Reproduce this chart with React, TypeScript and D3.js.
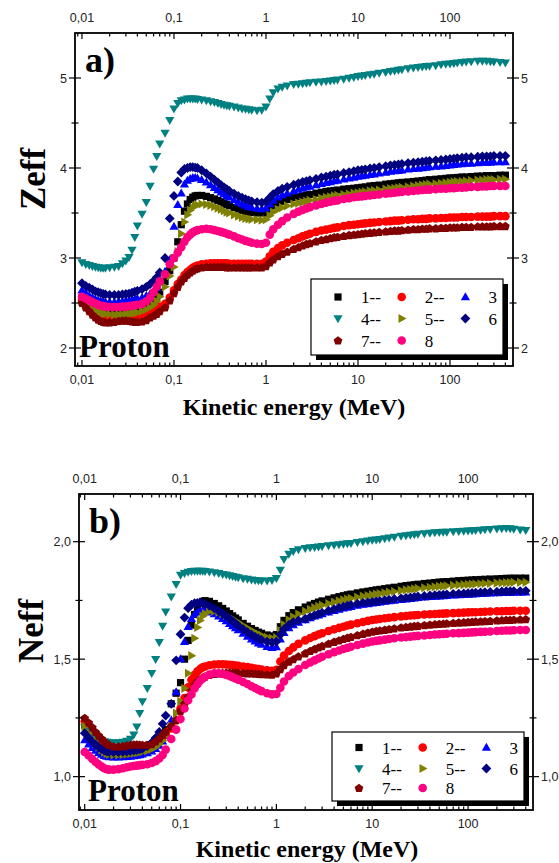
import React, { useEffect, useRef } from "react";
import * as d3 from "d3";

// proton kinetic energy grid (MeV)
const energy = [
  0.01, 0.011, 0.012, 0.013, 0.014, 0.015, 0.016, 0.017, 0.018, 0.02, 0.0225, 0.025, 0.0275, 0.03, 0.0325, 0.035, 0.0375, 0.04, 0.045, 0.05, 0.055, 0.06, 0.065, 0.07, 0.08, 0.09,
  0.1, 0.11, 0.12, 0.13, 0.14, 0.15, 0.16, 0.17, 0.18, 0.2, 0.225, 0.25, 0.275, 0.3, 0.325, 0.35, 0.375, 0.4, 0.45, 0.5, 0.55, 0.6, 0.65, 0.7, 0.8, 0.9,
  1, 1.1, 1.2, 1.35, 1.5, 1.7, 2, 2.25, 2.5, 2.75, 3, 3.5, 4, 4.5, 5, 5.5, 6, 7, 8, 9,
  10, 11, 12, 13.5, 15, 17, 20, 22.5, 25, 27.5, 30, 35, 40, 45, 50, 55, 60, 70, 80, 90,
  100, 110, 120, 135, 150, 170, 200, 225, 250, 275, 300, 350, 400,
];

// a) Zeff
const zeff1 = [
  2.56, 2.53, 2.5, 2.48, 2.46, 2.45, 2.44, 2.435, 2.43, 2.425, 2.425, 2.425, 2.43, 2.43, 2.435, 2.44, 2.445, 2.45, 2.465, 2.48, 2.5, 2.53, 2.57, 2.62, 2.74, 2.86,
  3.0, 3.18, 3.37, 3.52, 3.6, 3.65, 3.675, 3.69, 3.695, 3.695, 3.685, 3.67, 3.655, 3.64, 3.625, 3.61, 3.595, 3.58, 3.56, 3.545, 3.53, 3.52, 3.51, 3.505, 3.5, 3.5,
  3.5, 3.545, 3.58, 3.61, 3.63, 3.65, 3.67, 3.68, 3.69, 3.7, 3.705, 3.72, 3.73, 3.74, 3.745, 3.75, 3.755, 3.765, 3.77, 3.775,
  3.78, 3.785, 3.79, 3.8, 3.805, 3.81, 3.82, 3.825, 3.83, 3.835, 3.84, 3.845, 3.85, 3.855, 3.86, 3.865, 3.87, 3.875, 3.88, 3.885,
  3.89, 3.89, 3.895, 3.9, 3.9, 3.905, 3.91, 3.91, 3.915, 3.915, 3.915, 3.92, 3.92,
];
const zeff2 = [
  2.53, 2.49, 2.45, 2.42, 2.4, 2.38, 2.365, 2.355, 2.35, 2.345, 2.345, 2.35, 2.355, 2.355, 2.355, 2.355, 2.355, 2.36, 2.37, 2.385, 2.4, 2.42, 2.44, 2.46, 2.49, 2.56,
  2.64, 2.71, 2.76, 2.81, 2.845, 2.87, 2.89, 2.905, 2.915, 2.93, 2.935, 2.94, 2.94, 2.94, 2.94, 2.94, 2.94, 2.935, 2.935, 2.935, 2.935, 2.935, 2.935, 2.935, 2.935, 2.935,
  2.96, 3.02, 3.07, 3.11, 3.14, 3.17, 3.2, 3.22, 3.24, 3.255, 3.27, 3.29, 3.305, 3.315, 3.325, 3.335, 3.34, 3.355, 3.365, 3.37,
  3.375, 3.38, 3.385, 3.39, 3.395, 3.4, 3.405, 3.41, 3.415, 3.415, 3.42, 3.425, 3.43, 3.43, 3.435, 3.435, 3.44, 3.44, 3.445, 3.445,
  3.45, 3.45, 3.45, 3.455, 3.455, 3.455, 3.46, 3.46, 3.46, 3.46, 3.465, 3.465, 3.465,
];
const zeff3 = [
  2.64, 2.61, 2.58, 2.56, 2.54, 2.53, 2.52, 2.515, 2.51, 2.51, 2.51, 2.515, 2.52, 2.525, 2.53, 2.535, 2.54, 2.55, 2.56, 2.58, 2.6, 2.63, 2.67, 2.73, 2.85, 2.98,
  3.35, 3.59, 3.72, 3.82, 3.86, 3.88, 3.89, 3.89, 3.885, 3.87, 3.84, 3.81, 3.78, 3.755, 3.73, 3.71, 3.69, 3.675, 3.645, 3.62, 3.6, 3.585, 3.57, 3.56, 3.55, 3.545,
  3.555, 3.6, 3.64, 3.675, 3.7, 3.72, 3.745, 3.76, 3.775, 3.785, 3.795, 3.81, 3.825, 3.835, 3.845, 3.855, 3.86, 3.875, 3.885, 3.895,
  3.905, 3.91, 3.915, 3.925, 3.93, 3.94, 3.95, 3.96, 3.965, 3.97, 3.975, 3.985, 3.99, 3.995, 4.0, 4.005, 4.01, 4.015, 4.02, 4.025,
  4.03, 4.035, 4.04, 4.045, 4.05, 4.05, 4.055, 4.06, 4.06, 4.06, 4.065, 4.065, 4.065,
];
const zeff4 = [
  2.95, 2.93, 2.92, 2.91, 2.9, 2.895, 2.89, 2.89, 2.89, 2.895, 2.9, 2.91, 2.94, 2.97, 3.01, 3.09, 3.23, 3.36, 3.49, 3.62, 3.8, 3.99, 4.13, 4.27, 4.39, 4.53,
  4.66, 4.72, 4.75, 4.76, 4.77, 4.77, 4.77, 4.77, 4.765, 4.76, 4.75, 4.74, 4.73, 4.72, 4.71, 4.7, 4.695, 4.69, 4.68, 4.67, 4.66, 4.655, 4.65, 4.645, 4.64, 4.645,
  4.68, 4.77, 4.84, 4.88, 4.9, 4.915, 4.93, 4.935, 4.94, 4.945, 4.95, 4.955, 4.96, 4.965, 4.97, 4.975, 4.98, 4.99, 5.0, 5.01,
  5.02, 5.025, 5.03, 5.04, 5.045, 5.055, 5.065, 5.075, 5.08, 5.09, 5.095, 5.105, 5.115, 5.12, 5.125, 5.13, 5.135, 5.14, 5.15, 5.155,
  5.16, 5.165, 5.17, 5.175, 5.18, 5.185, 5.19, 5.19, 5.19, 5.185, 5.18, 5.175, 5.17,
];
const zeff5 = [
  2.52, 2.49, 2.46, 2.44, 2.42, 2.405, 2.395, 2.385, 2.38, 2.375, 2.37, 2.37, 2.37, 2.375, 2.38, 2.385, 2.39, 2.395, 2.41, 2.43, 2.45, 2.48, 2.52, 2.57, 2.68, 2.8,
  2.9, 3.07, 3.27, 3.4, 3.48, 3.53, 3.56, 3.58, 3.59, 3.6, 3.595, 3.585, 3.57, 3.555, 3.54, 3.525, 3.51, 3.5, 3.48, 3.465, 3.45, 3.44, 3.435, 3.43, 3.425, 3.42,
  3.425, 3.47, 3.51, 3.54, 3.56, 3.58, 3.6, 3.61, 3.62, 3.63, 3.64, 3.65, 3.665, 3.675, 3.68, 3.69, 3.695, 3.705, 3.71, 3.72,
  3.725, 3.73, 3.735, 3.745, 3.75, 3.755, 3.765, 3.77, 3.775, 3.78, 3.785, 3.79, 3.8, 3.805, 3.81, 3.815, 3.82, 3.825, 3.83, 3.835,
  3.84, 3.845, 3.85, 3.85, 3.855, 3.86, 3.865, 3.865, 3.87, 3.87, 3.87, 3.875, 3.875,
];
const zeff6 = [
  2.72, 2.69, 2.67, 2.65, 2.63, 2.62, 2.61, 2.6, 2.595, 2.59, 2.59, 2.59, 2.595, 2.6, 2.605, 2.615, 2.625, 2.635, 2.655, 2.68, 2.71, 2.745, 2.785, 2.84, 3.0, 3.44,
  3.69, 3.85, 3.95, 3.99, 4.0, 4.01, 4.01, 4.005, 4.0, 3.975, 3.94, 3.905, 3.87, 3.84, 3.81, 3.785, 3.765, 3.745, 3.715, 3.69, 3.67, 3.655, 3.64, 3.63, 3.62, 3.615,
  3.625, 3.67, 3.71, 3.745, 3.77, 3.79, 3.815, 3.83, 3.845, 3.855, 3.865, 3.88, 3.895, 3.905, 3.915, 3.925, 3.93, 3.945, 3.955, 3.965,
  3.975, 3.98, 3.985, 3.995, 4.0, 4.01, 4.02, 4.03, 4.035, 4.04, 4.045, 4.055, 4.06, 4.065, 4.07, 4.075, 4.08, 4.085, 4.09, 4.095,
  4.1, 4.105, 4.11, 4.115, 4.12, 4.12, 4.125, 4.13, 4.13, 4.13, 4.135, 4.135, 4.135,
];
const zeff7 = [
  2.5, 2.45, 2.41, 2.37, 2.34, 2.315, 2.3, 2.29, 2.285, 2.285, 2.29, 2.3, 2.305, 2.305, 2.3, 2.295, 2.29, 2.29, 2.295, 2.31, 2.34, 2.36, 2.38, 2.41, 2.45, 2.53,
  2.61, 2.68, 2.74, 2.78, 2.815, 2.84, 2.86, 2.875, 2.885, 2.895, 2.9, 2.9, 2.9, 2.9, 2.9, 2.9, 2.895, 2.895, 2.895, 2.895, 2.895, 2.895, 2.895, 2.895, 2.895, 2.895,
  2.91, 2.95, 2.985, 3.02, 3.045, 3.07, 3.1, 3.12, 3.14, 3.155, 3.165, 3.185, 3.2, 3.21, 3.22, 3.23, 3.235, 3.245, 3.255, 3.26,
  3.265, 3.27, 3.275, 3.28, 3.285, 3.29, 3.295, 3.3, 3.305, 3.305, 3.31, 3.315, 3.32, 3.32, 3.325, 3.325, 3.33, 3.33, 3.335, 3.335,
  3.34, 3.34, 3.34, 3.345, 3.345, 3.345, 3.35, 3.35, 3.35, 3.35, 3.355, 3.355, 3.355,
];
const zeff8 = [
  2.57, 2.55, 2.53, 2.51, 2.495, 2.48, 2.47, 2.465, 2.46, 2.455, 2.455, 2.455, 2.46, 2.46, 2.465, 2.47, 2.475, 2.48, 2.49, 2.52, 2.56, 2.62, 2.68, 2.74, 2.82, 2.93,
  3.0, 3.06, 3.12, 3.18, 3.23, 3.26, 3.285, 3.3, 3.31, 3.32, 3.325, 3.32, 3.31, 3.3, 3.29, 3.28, 3.27, 3.26, 3.24, 3.22, 3.205, 3.19, 3.18, 3.17, 3.16, 3.155,
  3.17, 3.26, 3.32, 3.37, 3.41, 3.45, 3.49, 3.515, 3.535, 3.55, 3.565, 3.585, 3.6, 3.615, 3.625, 3.635, 3.64, 3.655, 3.665, 3.675,
  3.68, 3.685, 3.69, 3.695, 3.7, 3.705, 3.715, 3.72, 3.725, 3.73, 3.735, 3.74, 3.745, 3.75, 3.755, 3.76, 3.76, 3.765, 3.77, 3.77,
  3.775, 3.775, 3.78, 3.78, 3.785, 3.79, 3.79, 3.795, 3.795, 3.8, 3.8, 3.8, 3.8,
];

// b) Neff
const neff1 = [
  1.22, 1.19, 1.17, 1.15, 1.135, 1.125, 1.115, 1.11, 1.107, 1.105, 1.105, 1.107, 1.108, 1.11, 1.112, 1.114, 1.116, 1.118, 1.123, 1.13, 1.14, 1.155, 1.175, 1.2, 1.31, 1.355,
  1.4, 1.5, 1.58, 1.645, 1.69, 1.72, 1.738, 1.746, 1.749, 1.746, 1.737, 1.727, 1.716, 1.705, 1.694, 1.684, 1.675, 1.667, 1.652, 1.64, 1.63, 1.622, 1.615, 1.61, 1.603, 1.599,
  1.605, 1.638, 1.665, 1.685, 1.698, 1.71, 1.722, 1.73, 1.737, 1.743, 1.748, 1.755, 1.761, 1.766, 1.77, 1.774, 1.777, 1.782, 1.786, 1.789,
  1.792, 1.795, 1.797, 1.8, 1.803, 1.806, 1.81, 1.813, 1.815, 1.817, 1.819, 1.822, 1.824, 1.826, 1.828, 1.829, 1.83, 1.832, 1.834, 1.835,
  1.836, 1.837, 1.838, 1.839, 1.84, 1.841, 1.842, 1.843, 1.844, 1.844, 1.845, 1.845, 1.845,
];
const neff2 = [
  1.235, 1.205, 1.18, 1.162, 1.148, 1.138, 1.13, 1.125, 1.122, 1.12, 1.12, 1.122, 1.124, 1.126, 1.127, 1.128, 1.129, 1.13, 1.133, 1.138, 1.145, 1.155, 1.167, 1.18, 1.205, 1.24,
  1.29, 1.335, 1.38, 1.412, 1.433, 1.448, 1.458, 1.465, 1.469, 1.474, 1.477, 1.478, 1.478, 1.477, 1.476, 1.475, 1.473, 1.472, 1.469, 1.466, 1.463, 1.46, 1.458, 1.456, 1.453, 1.451,
  1.455, 1.49, 1.515, 1.535, 1.55, 1.565, 1.58, 1.59, 1.598, 1.605, 1.61, 1.62, 1.627, 1.633, 1.638, 1.643, 1.647, 1.653, 1.658, 1.663,
  1.667, 1.669, 1.671, 1.674, 1.676, 1.679, 1.682, 1.684, 1.686, 1.687, 1.688, 1.69, 1.691, 1.692, 1.693, 1.694, 1.695, 1.696, 1.697, 1.698,
  1.699, 1.7, 1.7, 1.701, 1.702, 1.703, 1.704, 1.704, 1.705, 1.705, 1.706, 1.706, 1.706,
];
const neff3 = [
  1.156, 1.138, 1.123, 1.111, 1.101, 1.094, 1.089, 1.085, 1.083, 1.082, 1.082, 1.083, 1.084, 1.086, 1.088, 1.09, 1.092, 1.095, 1.1, 1.108, 1.118, 1.132, 1.15, 1.175, 1.24, 1.36,
  1.5, 1.574, 1.638, 1.672, 1.69, 1.7, 1.705, 1.706, 1.705, 1.7, 1.692, 1.682, 1.672, 1.662, 1.651, 1.641, 1.632, 1.624, 1.609, 1.596, 1.585, 1.576, 1.568, 1.562, 1.553, 1.548,
  1.552, 1.585, 1.612, 1.632, 1.645, 1.656, 1.667, 1.675, 1.682, 1.687, 1.692, 1.7, 1.706, 1.711, 1.716, 1.72, 1.723, 1.728, 1.732, 1.735,
  1.738, 1.74, 1.742, 1.745, 1.747, 1.75, 1.753, 1.755, 1.757, 1.759, 1.761, 1.763, 1.765, 1.767, 1.768, 1.769, 1.77, 1.772, 1.773, 1.774,
  1.775, 1.776, 1.777, 1.778, 1.779, 1.78, 1.781, 1.782, 1.783, 1.783, 1.784, 1.784, 1.785,
];
const neff4 = [
  1.21, 1.195, 1.18, 1.17, 1.16, 1.155, 1.15, 1.148, 1.146, 1.145, 1.146, 1.148, 1.152, 1.16, 1.178, 1.213, 1.27, 1.32, 1.376, 1.44, 1.5, 1.572, 1.641, 1.702, 1.766, 1.819,
  1.858, 1.866, 1.871, 1.874, 1.875, 1.876, 1.876, 1.875, 1.874, 1.872, 1.869, 1.866, 1.862, 1.859, 1.856, 1.853, 1.85, 1.848, 1.844, 1.841, 1.838, 1.836, 1.835, 1.834, 1.834, 1.836,
  1.845, 1.88, 1.925, 1.948, 1.96, 1.967, 1.972, 1.975, 1.977, 1.979, 1.981, 1.984, 1.986, 1.988, 1.99, 1.992, 1.994, 1.998, 2.001, 2.004,
  2.007, 2.009, 2.011, 2.014, 2.017, 2.02, 2.024, 2.027, 2.029, 2.031, 2.033, 2.035, 2.037, 2.039, 2.04, 2.041, 2.042, 2.044, 2.045, 2.046,
  2.047, 2.048, 2.049, 2.05, 2.052, 2.053, 2.055, 2.056, 2.057, 2.056, 2.054, 2.051, 2.049,
];
const neff5 = [
  1.213, 1.185, 1.16, 1.14, 1.125, 1.113, 1.104, 1.098, 1.095, 1.093, 1.093, 1.094, 1.096, 1.098, 1.1, 1.102, 1.104, 1.106, 1.11, 1.117, 1.126, 1.138, 1.153, 1.172, 1.215, 1.27,
  1.32, 1.376, 1.44, 1.515, 1.589, 1.635, 1.665, 1.683, 1.694, 1.703, 1.704, 1.7, 1.694, 1.687, 1.679, 1.671, 1.663, 1.656, 1.643, 1.632, 1.622, 1.614, 1.607, 1.601, 1.593, 1.589,
  1.592, 1.622, 1.647, 1.667, 1.68, 1.692, 1.704, 1.712, 1.719, 1.725, 1.73, 1.737, 1.743, 1.748, 1.752, 1.756, 1.759, 1.764, 1.768, 1.771,
  1.774, 1.777, 1.779, 1.782, 1.785, 1.788, 1.792, 1.795, 1.797, 1.799, 1.801, 1.804, 1.806, 1.808, 1.81, 1.811, 1.812, 1.814, 1.816, 1.817,
  1.818, 1.819, 1.82, 1.821, 1.822, 1.823, 1.824, 1.825, 1.826, 1.826, 1.827, 1.827, 1.827,
];
const neff6 = [
  1.185, 1.165, 1.148, 1.135, 1.125, 1.117, 1.111, 1.107, 1.105, 1.104, 1.104, 1.105, 1.107, 1.109, 1.111, 1.113, 1.116, 1.119, 1.13, 1.145, 1.165, 1.19, 1.225, 1.26, 1.31, 1.495,
  1.606, 1.677, 1.717, 1.732, 1.738, 1.74, 1.739, 1.737, 1.734, 1.727, 1.716, 1.705, 1.694, 1.683, 1.672, 1.662, 1.652, 1.643, 1.628, 1.615, 1.604, 1.595, 1.588, 1.582, 1.575, 1.571,
  1.575, 1.605, 1.628, 1.646, 1.658, 1.665, 1.672, 1.68, 1.687, 1.693, 1.698, 1.706, 1.713, 1.719, 1.724, 1.728, 1.731, 1.736, 1.74, 1.742,
  1.744, 1.746, 1.748, 1.751, 1.753, 1.756, 1.759, 1.761, 1.763, 1.765, 1.767, 1.769, 1.771, 1.773, 1.774, 1.775, 1.776, 1.778, 1.779, 1.78,
  1.781, 1.782, 1.783, 1.784, 1.785, 1.786, 1.787, 1.788, 1.789, 1.789, 1.79, 1.79, 1.791,
];
const neff7 = [
  1.25, 1.23, 1.21, 1.19, 1.175, 1.162, 1.15, 1.142, 1.135, 1.129, 1.128, 1.13, 1.133, 1.135, 1.137, 1.137, 1.136, 1.135, 1.135, 1.138, 1.15, 1.163, 1.178, 1.192, 1.215, 1.24,
  1.28, 1.31, 1.34, 1.365, 1.39, 1.405, 1.415, 1.421, 1.426, 1.433, 1.437, 1.44, 1.441, 1.442, 1.442, 1.442, 1.442, 1.441, 1.441, 1.44, 1.439, 1.438, 1.437, 1.436, 1.435, 1.434,
  1.44, 1.458, 1.475, 1.49, 1.5, 1.512, 1.525, 1.535, 1.543, 1.55, 1.556, 1.566, 1.574, 1.58, 1.586, 1.591, 1.595, 1.602, 1.608, 1.613,
  1.617, 1.62, 1.622, 1.625, 1.628, 1.631, 1.635, 1.637, 1.639, 1.641, 1.642, 1.645, 1.647, 1.649, 1.65, 1.651, 1.652, 1.654, 1.656, 1.657,
  1.658, 1.659, 1.66, 1.661, 1.662, 1.663, 1.665, 1.666, 1.667, 1.667, 1.668, 1.669, 1.67,
];
const neff8 = [
  1.105, 1.09, 1.075, 1.062, 1.052, 1.043, 1.036, 1.032, 1.03, 1.03, 1.032, 1.036, 1.04, 1.043, 1.045, 1.047, 1.049, 1.05, 1.053, 1.058, 1.066, 1.077, 1.092, 1.115, 1.16, 1.2,
  1.245, 1.29, 1.325, 1.35, 1.375, 1.393, 1.408, 1.418, 1.425, 1.435, 1.44, 1.44, 1.437, 1.433, 1.428, 1.423, 1.418, 1.413, 1.403, 1.394, 1.385, 1.377, 1.37, 1.364, 1.355, 1.35,
  1.352, 1.378, 1.405, 1.428, 1.443, 1.458, 1.475, 1.486, 1.495, 1.503, 1.51, 1.521, 1.53, 1.537, 1.543, 1.548, 1.553, 1.56, 1.566, 1.571,
  1.575, 1.578, 1.58, 1.583, 1.586, 1.589, 1.592, 1.594, 1.596, 1.598, 1.599, 1.601, 1.603, 1.605, 1.606, 1.607, 1.608, 1.61, 1.611, 1.612,
  1.613, 1.614, 1.615, 1.616, 1.617, 1.618, 1.62, 1.621, 1.622, 1.622, 1.623, 1.624, 1.624,
];

const seriesLabels = ["1--", "2--", "3", "4--", "5--", "6", "7--", "8"];
const seriesColors = ["#000000", "#FF0000", "#0000FF", "#008080", "#808000", "#000080", "#800000", "#FF0080"];
const seriesShapes = ["square", "circle", "up", "down", "right", "diamond", "pentagon", "circle"];

const energyTicks = [0.01, 0.1, 1, 10, 100];
const zeffTicks = [2, 3, 4, 5];
const zeffMinor = [2.5, 3.5, 4.5];
const neffTicks = [1.0, 1.5, 2.0];
const neffMinor = [1.25, 1.75];

const serif = "'Liberation Serif', 'Times New Roman', serif";
const sans = "'Liberation Sans', Arial, sans-serif";

function markerPath(shape) {
  switch (shape) {
    case "square":
      return "M-3.6,-3.6H3.6V3.6H-3.6Z";
    case "circle":
      return d3.symbol(d3.symbolCircle, Math.PI * 4.3 * 4.3)();
    case "up":
      return "M0,-4.8L4.6,3.2L-4.6,3.2Z";
    case "down":
      return "M0,4.8L4.6,-3.2L-4.6,-3.2Z";
    case "right":
      return "M4.8,0L-3.2,-4.6L-3.2,4.6Z";
    case "diamond":
      return "M0,-4.9L4.9,0L0,4.9L-4.9,0Z";
    case "pentagon": {
      const pts = d3.range(5).map((k) => {
        const a = -Math.PI / 2 + (k * 2 * Math.PI) / 5;
        return [4.6 * Math.cos(a), 4.6 * Math.sin(a) + 0.4];
      });
      return "M" + pts.map((p) => p.join(",")).join("L") + "Z";
    }
    default:
      return "";
  }
}

function commaFmt(v, digits) {
  const s = digits == null ? String(v) : v.toFixed(digits);
  return s.replace(".", ",");
}

function drawPanel(svg, p) {
  const x = d3.scaleLog().domain(p.xDomain).range([p.left, p.right]);
  const y = d3.scaleLinear().domain(p.yDomain).range([p.bottom, p.top]);
  const g = svg.append("g");

  // data markers, series 1 drawn first, 8 last
  p.series.forEach((vals, i) => {
    const pts = energy.map((e, j) => [e, vals[j]]).filter((d) => d[1] != null);
    g.append("g")
      .selectAll("path")
      .data(pts)
      .join("path")
      .attr("d", markerPath(seriesShapes[i]))
      .attr("transform", (d) => `translate(${x(d[0]).toFixed(2)},${y(d[1]).toFixed(2)})`)
      .attr("fill", seriesColors[i]);
  });

  // frame
  g.append("rect")
    .attr("x", p.left)
    .attr("y", p.top)
    .attr("width", p.right - p.left)
    .attr("height", p.bottom - p.top)
    .attr("fill", "none")
    .attr("stroke", "#000")
    .attr("stroke-width", 1.8);

  const ticks = g.append("g").attr("stroke", "#000").attr("stroke-width", 1.2);
  const minorX = [];
  [0.001, 0.01, 0.1, 1, 10, 100].forEach((d) => {
    for (let k = 2; k <= 9; k++) {
      const v = k * d;
      if (v > p.xDomain[0] && v < p.xDomain[1]) minorX.push(v);
    }
  });
  const xt = [
    ...energyTicks.map((v) => ({ v, len: 6 })),
    ...minorX.map((v) => ({ v, len: 3.5 })),
  ];
  xt.forEach((t) => {
    const xx = x(t.v);
    ticks.append("line").attr("x1", xx).attr("x2", xx).attr("y1", p.top).attr("y2", p.top + t.len);
    ticks.append("line").attr("x1", xx).attr("x2", xx).attr("y1", p.bottom).attr("y2", p.bottom - t.len);
  });
  const yt = [
    ...p.yTicks.map((v) => ({ v, len: 6 })),
    ...p.yMinor.map((v) => ({ v, len: 3.5 })),
  ];
  yt.forEach((t) => {
    const yy = y(t.v);
    ticks.append("line").attr("x1", p.left - t.len).attr("x2", p.left + t.len).attr("y1", yy).attr("y2", yy);
    ticks.append("line").attr("x1", p.right - t.len).attr("x2", p.right + t.len).attr("y1", yy).attr("y2", yy);
  });

  const lab = g.append("g").attr("font-family", sans).attr("font-size", 12.5).attr("fill", "#222");
  energyTicks.forEach((v) => {
    lab.append("text").attr("x", x(v)).attr("y", p.top - 11).attr("text-anchor", "middle").text(commaFmt(v));
    lab.append("text").attr("x", x(v)).attr("y", p.bottom + 18).attr("text-anchor", "middle").text(commaFmt(v));
  });
  p.yTicks.forEach((v) => {
    lab.append("text").attr("x", p.left - 8).attr("y", y(v) + 4.5).attr("text-anchor", "end").text(commaFmt(v, p.yDigits));
    lab.append("text").attr("x", p.right + 8).attr("y", y(v) + 4.5).attr("text-anchor", "start").text(commaFmt(v, p.yDigits));
  });

  // texts
  g.append("text")
    .attr("x", p.left + 10)
    .attr("y", p.top + 39)
    .attr("font-family", serif)
    .attr("font-weight", "bold")
    .attr("font-size", 36)
    .text(p.tag);
  g.append("text")
    .attr("transform", `translate(${p.yLabelX},${p.yLabelY}) rotate(-90)`)
    .attr("text-anchor", "middle")
    .attr("font-family", serif)
    .attr("font-weight", "bold")
    .attr("font-size", 35)
    .text(p.yLabel);
  g.append("text")
    .attr("x", p.protonX)
    .attr("y", p.bottom - 9)
    .attr("font-family", serif)
    .attr("font-weight", "bold")
    .attr("font-size", 31)
    .text("Proton");
  g.append("text")
    .attr("x", p.xLabelX)
    .attr("y", p.xLabelY)
    .attr("text-anchor", "middle")
    .attr("font-family", serif)
    .attr("font-weight", "bold")
    .attr("font-size", 24)
    .text("Kinetic energy (MeV)");

  // legend
  const L = p.legend;
  const lg = g.append("g");
  lg.append("rect").attr("x", L.x + 5).attr("y", L.y + 5).attr("width", L.w).attr("height", L.h).attr("fill", "#000");
  lg.append("rect")
    .attr("x", L.x)
    .attr("y", L.y)
    .attr("width", L.w)
    .attr("height", L.h)
    .attr("fill", "#fff")
    .attr("stroke", "#000")
    .attr("stroke-width", 1.2);
  seriesLabels.forEach((name, i) => {
    const row = Math.floor(i / 3);
    const col = i % 3;
    const cy = L.y + L.rows[row];
    const sx = L.x + 27 + col * 63.7;
    lg.append("path")
      .attr("d", markerPath(seriesShapes[i]))
      .attr("transform", `translate(${sx},${cy})`)
      .attr("fill", seriesColors[i]);
    lg.append("text")
      .attr("x", sx + 23)
      .attr("y", cy + 6)
      .attr("font-family", serif)
      .attr("font-size", 17)
      .attr("fill", "#000")
      .text(name);
  });
}

export default function App() {
  const ref = useRef(null);

  useEffect(() => {
    const svg = d3.select(ref.current);
    svg.selectAll("*").remove();
    svg.append("rect").attr("width", 559).attr("height", 863).attr("fill", "#fff");

    drawPanel(svg, {
      left: 75,
      right: 513,
      top: 33,
      bottom: 366,
      xDomain: [0.0084, 484],
      yDomain: [1.8, 5.5],
      yTicks: zeffTicks,
      yMinor: zeffMinor,
      yDigits: null,
      series: [zeff1, zeff2, zeff3, zeff4, zeff5, zeff6, zeff7, zeff8],
      tag: "a)",
      yLabel: "Zeff",
      yLabelX: 45,
      yLabelY: 179,
      protonX: 79,
      xLabelX: 294,
      xLabelY: 415,
      legend: { x: 311, y: 279, w: 192, h: 76, rows: [18, 39.5, 61.5] },
    });

    drawPanel(svg, {
      left: 79,
      right: 533,
      top: 494,
      bottom: 810,
      xDomain: [0.00872, 476],
      yDomain: [0.858, 2.203],
      yTicks: neffTicks,
      yMinor: neffMinor,
      yDigits: 1,
      series: [neff1, neff2, neff3, neff4, neff5, neff6, neff7, neff8],
      tag: "b)",
      yLabel: "Neff",
      yLabelX: 43,
      yLabelY: 631,
      protonX: 88,
      xLabelX: 307,
      xLabelY: 857,
      legend: { x: 332, y: 732, w: 192, h: 69, rows: [15.5, 36.5, 56] },
    });
  }, []);

  return (
    <svg
      ref={ref}
      width={559}
      height={863}
      style={{ position: "absolute", left: 0, top: 0 }}
    />
  );
}
